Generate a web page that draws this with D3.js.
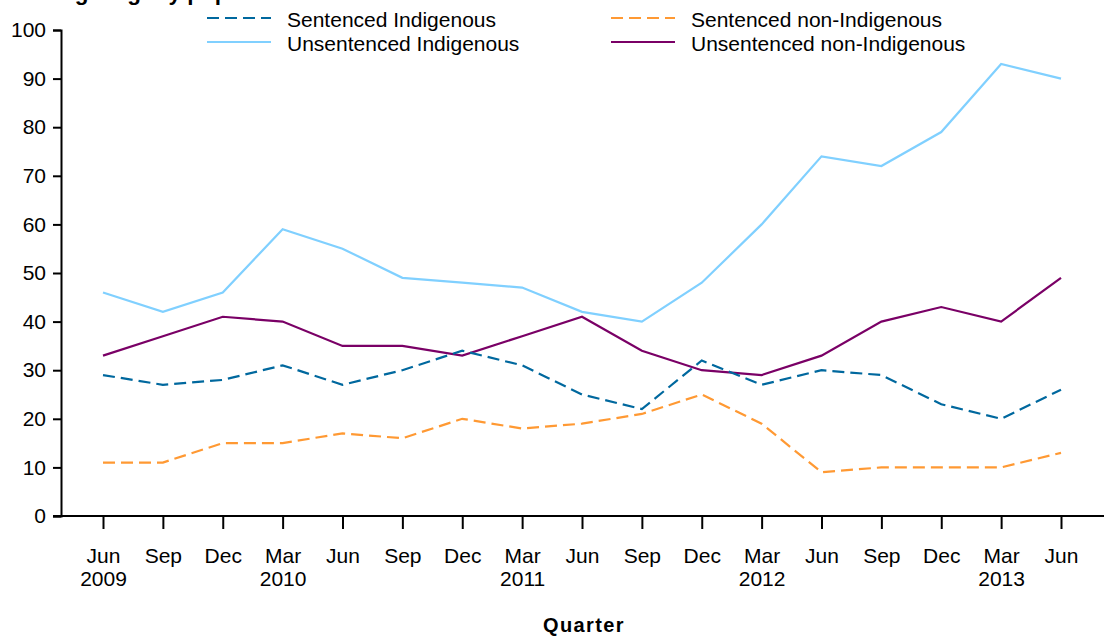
<!DOCTYPE html>
<html>
<head>
<meta charset="utf-8">
<script src="https://cdn.jsdelivr.net/npm/d3@7"></script>
<style>
  html, body { margin: 0; padding: 0; background: #fff; }
  svg { display: block; font-family: "Liberation Sans", Arial, sans-serif; }
</style>
</head>
<body>
<svg id="chart" width="1108" height="637"></svg>
<script>
// ---- data ----
const months = ["Jun","Sep","Dec","Mar","Jun","Sep","Dec","Mar","Jun","Sep","Dec","Mar","Jun","Sep","Dec","Mar","Jun"];
const years  = ["2009","","","2010","","","","2011","","","","2012","","","","2013",""];
const sentencedIndigenous      = [29,27,28,31,27,30,34,31,25,22,32,27,30,29,23,20,26];
const sentencedNonIndigenous   = [11,11,15,15,17,16,20,18,19,21,25,19,9,10,10,10,13];
const unsentencedIndigenous    = [46,42,46,59,55,49,48,47,42,40,48,60,74,72,79,93,90];
const unsentencedNonIndigenous = [33,37,41,40,35,35,33,37,41,34,30,29,33,40,43,40,49];
const yTicks = [0,10,20,30,40,50,60,70,80,90,100];
const titleText = "Average nightly population";
const xTitle = "Quarter";

const series = [
  { name: "Sentenced Indigenous", values: sentencedIndigenous, color: "#00689e", dash: "12,6" },
  { name: "Unsentenced Indigenous", values: unsentencedIndigenous, color: "#80d0ff", dash: null },
  { name: "Sentenced non-Indigenous", values: sentencedNonIndigenous, color: "#ff9933", dash: "12,6" },
  { name: "Unsentenced non-Indigenous", values: unsentencedNonIndigenous, color: "#7a0066", dash: null }
];

const svg = d3.select("#chart");
const idx = d3.range(months.length);
const x = d3.scalePoint().domain(idx).range([103, 1061]);
const y = d3.scaleLinear().domain([0, 100]).range([516, 30]);
const axisLeftX = 61, axisRightX = 1104;

// title (cut off at the top edge, as in the reference)
svg.append("text").attr("x", 13).attr("y", 0)
  .attr("font-size", 22.5).attr("font-weight", "bold").attr("fill", "#000")
  .text(titleText);

// y axis
const gy = svg.append("g").attr("transform", `translate(${axisLeftX},0)`)
  .call(d3.axisLeft(y).tickValues(yTicks).tickSize(8).tickPadding(7).tickFormat(d3.format("d")));
gy.selectAll("path, line").attr("stroke", "#000").attr("stroke-width", 2);
gy.selectAll("text").attr("font-size", 21).attr("fill", "#000").attr("font-family", "Liberation Sans, Arial, sans-serif");

// x axis
const gx = svg.append("g").attr("transform", `translate(0,${y(0)})`)
  .call(d3.axisBottom(x).tickSize(13).tickSizeOuter(0).tickFormat(() => ""));
gx.select(".domain").remove();
gx.selectAll("line").attr("stroke", "#000").attr("stroke-width", 2);
gx.append("line").attr("x1", axisLeftX - 8).attr("x2", axisRightX)
  .attr("y1", 0).attr("y2", 0).attr("stroke", "#000").attr("stroke-width", 2);
gx.selectAll(".tick").each(function(d) {
  const t = d3.select(this);
  t.append("text").attr("y", 47).attr("text-anchor", "middle")
    .attr("font-size", 21).attr("fill", "#000").text(months[d]);
  if (years[d]) t.append("text").attr("y", 70).attr("text-anchor", "middle")
    .attr("font-size", 21).attr("fill", "#000").text(years[d]);
});

// x axis title
svg.append("text").attr("x", 584).attr("y", 632).attr("text-anchor", "middle")
  .attr("font-size", 20).attr("font-weight", "bold").attr("letter-spacing", 1.4)
  .attr("fill", "#000").text(xTitle);

// lines
const line = d3.line().x((d, i) => x(i)).y(d => y(d));
const drawOrder = [1, 3, 2, 0];
drawOrder.forEach(k => {
  const s = series[k];
  svg.append("path").datum(s.values)
    .attr("d", line).attr("fill", "none")
    .attr("stroke", s.color).attr("stroke-width", 2.2)
    .attr("stroke-dasharray", s.dash);
});

// legend
const legendPos = [
  { lx: 207, ly: 18 }, { lx: 207, ly: 42 },
  { lx: 611, ly: 18 }, { lx: 611, ly: 42 }
];
series.forEach((s, i) => {
  const p = legendPos[i];
  const g = svg.append("g").attr("transform", `translate(${p.lx},${p.ly})`);
  g.append("line").attr("x1", 0).attr("x2", 64).attr("y1", 0).attr("y2", 0)
    .attr("stroke", s.color).attr("stroke-width", 2.2).attr("stroke-dasharray", s.dash);
  g.append("text").attr("x", 80).attr("y", 9).attr("font-size", 21)
    .attr("fill", "#000").text(s.name);
});
</script>
</body>
</html>
